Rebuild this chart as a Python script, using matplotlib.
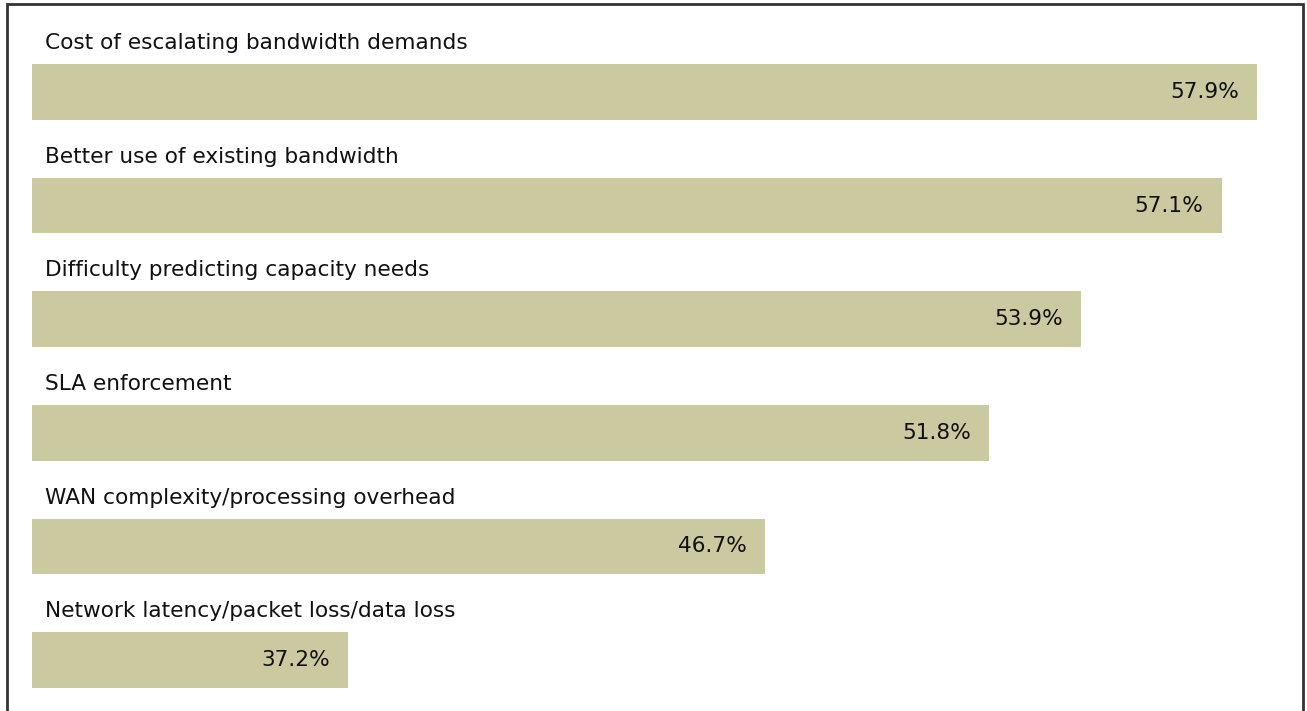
import matplotlib.pyplot as plt
from matplotlib.patches import Rectangle

categories = ["Cost of escalating bandwidth demands",
              "Better use of existing bandwidth",
              "Difficulty predicting capacity needs",
              "SLA enforcement",
              "WAN complexity/processing overhead",
              "Network latency/packet loss/data loss"]
values = [57.9, 57.1, 53.9, 51.8, 46.7, 37.2]
x_start = 30

W, H = 1307, 711
fig = plt.figure(figsize=(W / 100, H / 100), dpi=100)
ax = fig.add_axes([32 / W, 0, (1302 - 32) / W, 1])

bar_color = "#cbc99f"
font = "DejaVu Sans"
ypos = list(range(len(categories)))
ax.barh(ypos, [v - x_start for v in values], left=x_start, height=0.49,
        color=bar_color)

for y, cat, v in zip(ypos, categories, values):
    ax.text(x_start + 0.3, y - 0.43, cat, va="center", ha="left",
            fontsize=15.6, family=font, color="#111111")
    ax.annotate(f"{v}%", xy=(v, y), xytext=(-18, 0), textcoords="offset pixels",
                va="center", ha="right", fontsize=15.6, family=font, color="#111111")

ax.set_xlim(x_start, 58.93)
ax.set_ylim(5.449, -0.81)
ax.axis("off")

# frame around the chart
fig.patches.append(Rectangle((7 / W, -0.1), (1303 - 7) / W, 1.1 - 4 / H,
                             transform=fig.transFigure, fill=False,
                             edgecolor="#333333", linewidth=2))

fig.savefig("out.png", dpi=100)
